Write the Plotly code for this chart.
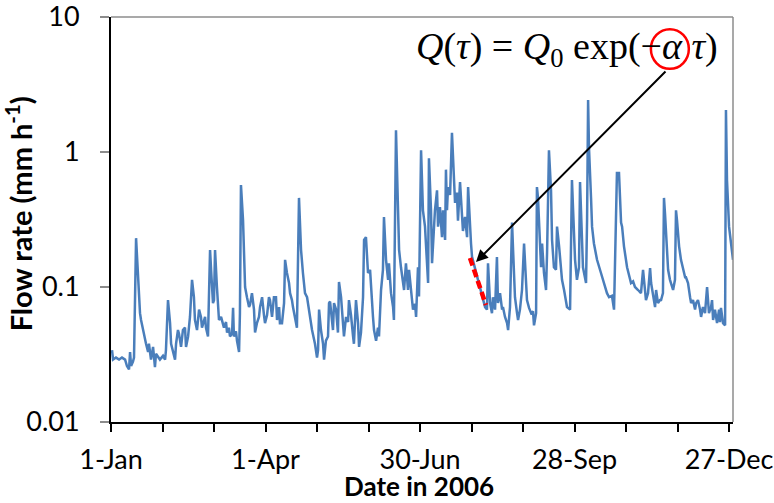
import pandas as pd
import numpy as np
import plotly.graph_objects as go

# ---- data (days since 1 Jan 2006, flow in mm/h) ----
day = [0.6, 1.2, 2.9, 4.7, 6.4, 8.2, 9.3, 10.5, 11.1, 11.7, 12.8, 13.4, 14.6, 15.7, 16.9, 17.5,
       19.8, 20.4, 21.6, 22.1, 23.3, 24.5, 25.6, 26.2, 28.5, 30.3, 31.5, 32.0, 33.2, 34.4, 35.0,
       36.1, 37.3, 37.9, 39.0, 39.6, 40.8, 41.9, 43.1, 43.7, 44.9, 46.0, 46.6, 47.2, 48.3, 48.9,
       50.1, 51.3, 52.4, 53.0, 54.8, 55.3, 56.5, 57.7, 58.3, 59.4, 60.0, 60.6, 61.7, 62.9, 64.1,
       65.8, 67.0, 67.6, 68.7, 69.3, 70.5, 71.1, 71.6, 72.8, 73.4, 74.6, 75.1, 75.7, 76.9, 77.5,
       78.1, 79.2, 80.4, 81.0, 82.1, 83.3, 83.9, 85.0, 86.2, 86.8, 88.0, 89.1, 89.7, 90.9, 92.0,
       92.6, 93.8, 94.9, 96.1, 96.7, 97.9, 98.4, 99.6, 100.8, 101.4, 102.5, 103.7, 104.3, 105.4,
       106.0, 107.2, 108.3, 109.5, 110.7, 111.8, 113.0, 114.2, 115.3, 115.9, 117.1, 118.8, 120.0,
       120.6, 121.2, 122.3, 123.5, 124.1, 125.2, 126.4, 127.0, 127.6, 128.2, 129.3, 129.9, 131.1,
       132.2, 132.8, 134.0, 135.1, 135.7, 136.9, 138.1, 138.6, 139.8, 141.0, 141.5, 142.7, 143.9,
       144.5, 145.6, 146.8, 147.4, 148.5, 149.7, 150.9, 151.5, 152.6, 153.2, 154.4, 155.5, 156.1,
       157.3, 158.4, 159.0, 160.2, 161.4, 161.9, 163.1, 164.3, 164.8, 166.0, 167.2, 167.8, 168.9,
       170.1, 170.7, 171.8, 173.0, 173.6, 174.8, 175.9, 177.1, 177.7, 178.8, 179.4, 180.6, 181.7,
       182.9, 184.1, 184.7, 185.2, 186.4, 187.0, 187.6, 188.7, 189.9, 190.5, 191.6, 192.8, 193.4,
       194.6, 195.1, 195.7, 196.3, 197.5, 198.6, 199.2, 200.4, 201.5, 202.1, 203.3, 204.5, 205.0,
       206.2, 207.4, 208.0, 209.1, 209.7, 210.3, 212.6, 214.9, 216.7, 217.9, 219.0, 219.6, 220.8,
       221.9, 222.5, 223.7, 224.8, 225.4, 226.6, 227.8, 228.3, 229.5, 230.7, 231.3, 232.4, 233.6,
       234.2, 235.3, 236.5, 237.1, 238.2, 239.4, 240.6, 241.7, 242.3, 243.5, 244.7, 245.8, 246.4,
       247.6, 248.1, 248.7, 249.3, 250.5, 251.1, 252.2, 253.4, 254.0, 255.1, 256.3, 256.9, 258.0,
       259.2, 259.8, 261.0, 262.1, 262.7, 263.9, 265.0, 265.6, 267.4, 268.5, 269.1, 270.3, 271.4,
       272.6, 273.2, 273.8, 274.9, 276.7, 277.3, 277.9, 278.4, 279.6, 280.2, 281.3, 283.1, 285.4,
       287.2, 288.3, 288.9, 290.1, 291.8, 293.0, 294.2, 294.7, 295.9, 297.1, 297.7, 298.8, 300.6,
       302.3, 302.9, 304.1, 305.2, 307.0, 308.7, 309.9, 311.1, 311.6, 312.8, 314.0, 314.6, 315.7,
       316.9, 317.5, 318.6, 319.8, 320.4, 321.5, 322.1, 322.7, 323.9, 324.5, 325.6, 326.2, 327.4,
       328.5, 329.1, 329.7, 330.9, 332.0, 333.2, 334.4, 334.9, 336.1, 337.3, 337.9, 339.0, 340.2,
       340.8, 341.9, 343.1, 343.7, 344.8, 346.0, 347.2, 348.3, 349.5, 350.1, 350.7, 351.8, 353.0,
       354.2, 354.7, 355.3, 356.5, 357.7, 358.2, 358.8, 360.0, 361.2, 362.3]

flow = [0.034, 0.029, 0.030, 0.029, 0.030, 0.029, 0.026, 0.0245, 0.033, 0.026, 0.028, 0.030,
        0.23, 0.113, 0.064, 0.057, 0.040, 0.038, 0.033, 0.038, 0.029, 0.036, 0.0255, 0.032,
        0.029, 0.031, 0.029, 0.034, 0.080, 0.054, 0.038, 0.034, 0.029, 0.038, 0.048, 0.045,
        0.036, 0.048, 0.050, 0.036, 0.043, 0.060, 0.095, 0.113, 0.084, 0.057, 0.048, 0.068,
        0.060, 0.050, 0.060, 0.050, 0.043, 0.188, 0.134, 0.076, 0.080, 0.188, 0.100, 0.057,
        0.060, 0.050, 0.055, 0.046, 0.050, 0.043, 0.045, 0.070, 0.043, 0.047, 0.040, 0.033,
        0.064, 0.57, 0.314, 0.15, 0.10, 0.084, 0.071, 0.074, 0.090, 0.068, 0.046, 0.054, 0.060,
        0.071, 0.084, 0.062, 0.054, 0.062, 0.084, 0.080, 0.060, 0.084, 0.084, 0.057, 0.071,
        0.054, 0.054, 0.076, 0.159, 0.127, 0.107, 0.090, 0.080, 0.071, 0.060, 0.050, 0.457,
        0.188, 0.127, 0.090, 0.084, 0.068, 0.057, 0.048, 0.038, 0.030, 0.034, 0.068, 0.048,
        0.038, 0.029, 0.040, 0.043, 0.076, 0.078, 0.064, 0.048, 0.076, 0.068, 0.046, 0.109,
        0.084, 0.054, 0.043, 0.060, 0.055, 0.080, 0.062, 0.043, 0.038, 0.080, 0.054, 0.036,
        0.046, 0.084, 0.223, 0.234, 0.127, 0.134, 0.095, 0.060, 0.048, 0.040, 0.050, 0.043,
        0.095, 0.134, 0.33, 0.159, 0.113, 0.150, 0.090, 0.071, 0.057, 1.45, 0.37, 0.188, 0.140,
        0.107, 0.095, 0.150, 0.095, 0.134, 0.090, 0.068, 0.075, 0.060, 0.140, 0.085, 1.03,
        0.37, 0.28, 0.134, 0.107, 0.90, 0.37, 0.150, 0.21, 0.37, 0.52, 0.28, 0.39, 0.234, 0.37,
        0.223, 0.74, 0.37, 0.55, 0.48, 1.39, 0.87, 0.42, 0.50, 0.31, 0.60, 0.37, 0.26, 0.33,
        0.234, 0.55, 0.25, 0.21, 0.167, 0.129, 0.100, 0.080, 0.071, 0.068, 0.150, 0.076, 0.064,
        0.084, 0.068, 0.167, 0.076, 0.090, 0.068, 0.071, 0.060, 0.054, 0.048, 0.071, 0.30,
        0.188, 0.084, 0.064, 0.057, 0.068, 0.095, 0.21, 0.100, 0.080, 0.070, 0.064, 0.066,
        0.052, 0.064, 0.55, 0.46, 0.30, 0.140, 0.21, 0.127, 0.095, 0.18, 1.03, 0.52, 0.223,
        0.140, 0.134, 0.28, 0.20, 0.140, 0.113, 0.095, 0.080, 0.071, 0.068, 0.62, 0.39, 0.159,
        0.113, 0.140, 0.60, 0.314, 0.140, 0.107, 0.314, 2.43, 1.09, 0.46, 0.28, 0.21, 0.159,
        0.127, 0.107, 0.095, 0.090, 0.084, 0.086, 0.068, 0.42, 0.70, 0.70, 0.30, 0.28, 0.20,
        0.140, 0.118, 0.107, 0.110, 0.100, 0.095, 0.090, 0.134, 0.090, 0.080, 0.090, 0.138,
        0.107, 0.090, 0.071, 0.095, 0.076, 0.080, 0.080, 0.090, 0.457, 0.35, 0.20, 0.134,
        0.113, 0.107, 0.095, 0.113, 0.37, 0.31, 0.20, 0.159, 0.134, 0.118, 0.118, 0.107, 0.084,
        0.076, 0.080, 0.068, 0.076, 0.080, 0.068, 0.060, 0.071, 0.064, 0.100, 0.064, 0.071,
        0.080, 0.057, 0.068, 0.054, 0.068, 0.055, 0.070, 0.054, 0.052, 2.05, 0.62, 0.28, 0.20,
        0.159]

# recession segment highlighted in red
recession_day = [209.1, 218.4]
recession_flow = [0.164, 0.0736]

# axis ticks (every 30 days)
tick_days = [0, 30, 60, 90, 120, 150, 180, 210, 240, 270, 300, 330, 360]
tick_labels = ["1-Jan", "", "", "1-Apr", "", "", "30-Jun", "", "", "28-Sep", "", "", "27-Dec"]
y_ticks = [0.01, 0.1, 1, 10]
y_labels = ["0.01", "0.1", "1", "10"]
x_end_day = 362.3

base = pd.Timestamp("2006-01-01")
to_date = lambda d: base + pd.to_timedelta(np.asarray(d, dtype=float), unit="D")

fig = go.Figure()
fig.add_trace(go.Scatter(x=to_date(day), y=flow, mode="lines",
                         line=dict(color="#4A7EBB", width=2.5), showlegend=False))
fig.add_trace(go.Scatter(x=to_date(recession_day), y=recession_flow, mode="lines",
                         line=dict(color="#FF0000", width=4.5, dash="8px,4px"), showlegend=False))

FONT = "Lato"
fig.update_layout(
    width=774, height=503,
    margin=dict(l=111, r=41, t=17, b=81),
    paper_bgcolor="white", plot_bgcolor="white",
    font=dict(family=FONT, color="black"),
)
fig.update_xaxes(
    type="date", automargin=False, ticklabeloverflow="allow",
    range=[to_date([0])[0], to_date([x_end_day])[0]],
    tickmode="array", tickvals=list(to_date(tick_days)), ticktext=tick_labels,
    ticks="outside", ticklen=8, tickwidth=1.5, tickcolor="black",
    showline=True, linecolor="black", linewidth=2,
    showgrid=False, zeroline=False,
    tickfont=dict(size=27, family=FONT), ticklabelstandoff=5,
)
fig.update_yaxes(
    type="log", range=[-2, 1], automargin=False, ticklabeloverflow="allow",
    tickmode="array", tickvals=y_ticks, ticktext=y_labels,
    ticks="outside", ticklen=9, tickwidth=2, tickcolor="#8C8C8C",
    showline=True, linecolor="black", linewidth=2,
    showgrid=False, zeroline=False,
    tickfont=dict(size=27, family=FONT), ticklabelstandoff=15,
)

# axis titles
fig.add_annotation(xref="paper", yref="paper", x=0.495, y=-0.2, showarrow=False,
                   text="<b>Date in 2006</b>", font=dict(size=26, family=FONT),
                   xanchor="center", yanchor="bottom", borderpad=0)
fig.add_annotation(xref="paper", yref="paper", x=-0.148, y=0.515, showarrow=False,
                   text="<b>Flow rate (mm h<sup>-1</sup>)</b>", font=dict(size=29, family=FONT),
                   textangle=-90, xanchor="center", yanchor="middle")

# plot-area frame (top and right sides in grey)
fig.add_shape(type="line", xref="paper", yref="paper", x0=0, x1=1, y0=1, y1=1,
              line=dict(color="#8C8C8C", width=1.5))
fig.add_shape(type="line", xref="paper", yref="paper", x0=1, x1=1, y0=0, y1=1,
              line=dict(color="#8C8C8C", width=1.5))

# equation
fig.add_annotation(xref="paper", yref="paper", x=0.733, y=0.921, showarrow=False,
                   text="<i>Q</i>(<i>τ</i>) = <i>Q</i><sub>0</sub> exp(−<i>α</i> <i>τ</i>)",
                   font=dict(family="Liberation Serif", size=38, color="black"),
                   xanchor="center", yanchor="middle")
# red circle round alpha
fig.add_shape(type="circle", xref="paper", yref="paper",
              x0=0.868, x1=0.929, y0=0.872, y1=0.970,
              line=dict(color="#FF0000", width=2.5))
# arrow from alpha to the recession
fig.add_annotation(x=to_date([212.6])[0], y=np.log10(0.153), xref="x", yref="y",
                   ax=191, ay=-192, axref="pixel", ayref="pixel",
                   showarrow=True, arrowhead=2, arrowsize=1.2, arrowwidth=2,
                   arrowcolor="black", text="", standoff=0)

fig.write_html("out.html", config={"displayModeBar": False},
               post_script="document.body.style.margin='0';")
